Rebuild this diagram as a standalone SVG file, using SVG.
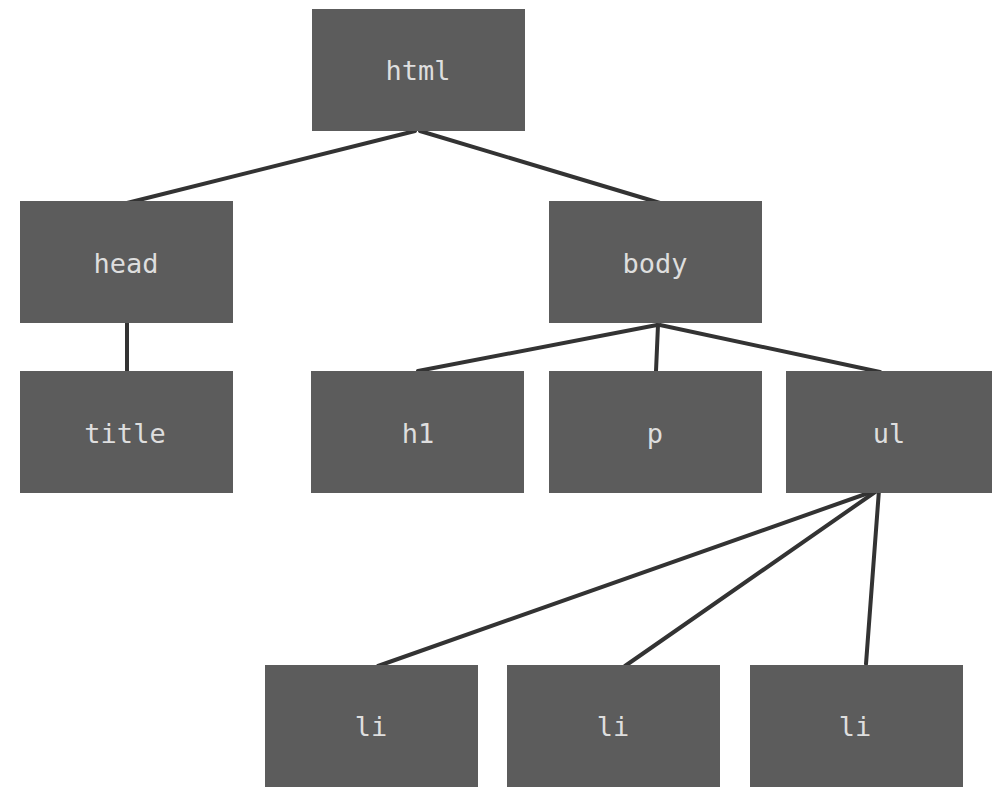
<svg xmlns="http://www.w3.org/2000/svg" width="992" height="787" viewBox="0 0 992 787">
<style>
.box{fill:#5c5c5c}
.lbl{fill:#dedede;font-family:"DejaVu Sans Mono","Liberation Mono",monospace;font-size:27px;text-anchor:middle}
.edge{stroke:#333333;stroke-width:4;fill:none;stroke-linecap:round}
</style>
<rect width="992" height="787" fill="#ffffff"/>
<g id="connectors">
<line class="edge" x1="415" y1="131" x2="127" y2="203"/>
<line class="edge" x1="420" y1="131" x2="660" y2="203"/>
<line class="edge" x1="127" y1="323" x2="127" y2="371"/>
<line class="edge" x1="657" y1="325" x2="418" y2="371"/>
<line class="edge" x1="658" y1="325" x2="656" y2="371"/>
<line class="edge" x1="660" y1="325" x2="880" y2="372"/>
<line class="edge" x1="877" y1="490" x2="378" y2="666"/>
<line class="edge" x1="878" y1="490" x2="625" y2="666"/>
<line class="edge" x1="879" y1="490" x2="866" y2="664"/>
</g>
<g id="html"><rect class="box" x="312" y="9" width="213" height="122"/><text class="lbl" x="418" y="80">html</text></g>
<g id="head"><rect class="box" x="20" y="201" width="213" height="122"/><text class="lbl" x="126" y="273">head</text></g>
<g id="body"><rect class="box" x="549" y="201" width="213" height="122"/><text class="lbl" x="655" y="273">body</text></g>
<g id="title"><rect class="box" x="20" y="371" width="213" height="122"/><text class="lbl" x="125" y="443">title</text></g>
<g id="h1"><rect class="box" x="311" y="371" width="213" height="122"/><text class="lbl" x="418" y="443">h1</text></g>
<g id="p"><rect class="box" x="549" y="371" width="213" height="122"/><text class="lbl" x="655" y="443">p</text></g>
<g id="ul"><rect class="box" x="786" y="371" width="213" height="122"/><text class="lbl" x="889" y="443">ul</text></g>
<g id="li1"><rect class="box" x="265" y="665" width="213" height="122"/><text class="lbl" x="371" y="736">li</text></g>
<g id="li2"><rect class="box" x="507" y="665" width="213" height="122"/><text class="lbl" x="613" y="736">li</text></g>
<g id="li3"><rect class="box" x="750" y="665" width="213" height="122"/><text class="lbl" x="855" y="736">li</text></g>
</svg>
